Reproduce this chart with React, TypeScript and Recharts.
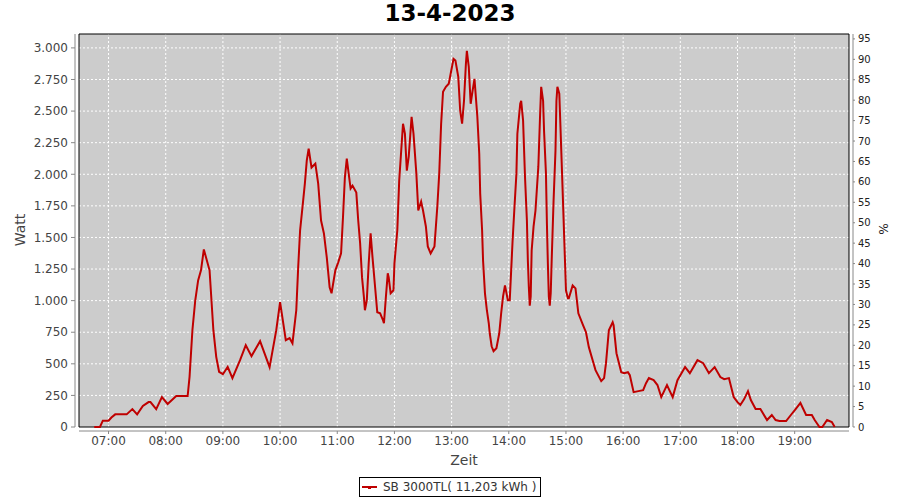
import React from 'react';
import { LineChart, Line, XAxis, YAxis, ReferenceArea, ReferenceLine } from 'recharts';

const times = [
  '06:45','06:51','06:54','07:00','07:03','07:07','07:19','07:25','07:30','07:36','07:42','07:44','07:50','07:56',
  '08:02','08:11','08:23','08:25','08:28','08:31','08:34','08:37','08:40','08:46','08:50','08:53','08:56',
  '09:00','09:05','09:10','09:18','09:24','09:30','09:39','09:49','09:56',
  '10:00','10:06','10:10','10:13','10:17','10:19','10:21','10:24','10:26','10:28','10:30','10:33','10:37','10:40',
  '10:43','10:46','10:49','10:52','10:54','10:58',
  '11:01','11:04','11:06','11:08','11:10','11:12','11:14','11:16','11:20','11:22','11:24','11:26','11:28','11:29',
  '11:31','11:33','11:35','11:37','11:40','11:42','11:45','11:48','11:49','11:51','11:53','11:54','11:56','11:59',
  '12:00','12:03','12:05','12:09','12:11','12:13','12:15','12:18','12:20','12:23','12:25','12:28','12:30','12:33',
  '12:35','12:38','12:42','12:45','12:47','12:49','12:51','12:54','12:57','12:59',
  '13:02','13:04','13:07','13:09','13:11','13:13','13:15','13:16','13:18','13:20','13:22','13:24','13:27','13:29',
  '13:30','13:32','13:33','13:35','13:37','13:39','13:40','13:42','13:44','13:47','13:50','13:52','13:54','13:56','13:59',
  '14:01','14:02','14:04','14:06','14:08','14:09','14:12','14:13','14:15','14:17','14:19','14:20','14:21','14:22',
  '14:23','14:24','14:26','14:28','14:31','14:33','14:34','14:36','14:37','14:39','14:40','14:41','14:42','14:43',
  '14:44','14:45','14:47','14:49','14:50','14:51','14:53','14:54','14:56','14:58',
  '15:00','15:02','15:03','15:07','15:10','15:13','15:18','15:21','15:24','15:28','15:31','15:37','15:40','15:42',
  '15:45','15:49','15:50','15:53','15:58',
  '16:01','16:05','16:07','16:11','16:16','16:21','16:24','16:27','16:32','16:36','16:40','16:46','16:52','16:57',
  '17:05','17:10','17:18','17:24','17:30','17:36','17:42','17:46','17:51','17:56',
  '18:00','18:03','18:07','18:11','18:14','18:19','18:24','18:31','18:36','18:40','18:44','18:51','18:56',
  '19:01','19:06','19:12','19:18','19:21','19:26','19:29','19:34','19:39','19:42',
];

const watts = [
  0, 0, 50, 50, 75, 100, 100, 142, 100, 166, 197, 197, 142, 237,
  182, 245, 245, 397, 766, 1003, 1160, 1240, 1405, 1240, 766, 555, 437,
  418, 476, 387, 529, 647, 561, 679, 474, 766,
  989, 687, 703, 663, 924, 1263, 1555, 1776, 1926, 2108, 2203, 2053, 2084, 1926,
  1634, 1532, 1342, 1105, 1058, 1240,
  1303, 1374, 1658, 1974, 2124, 2005, 1887, 1910, 1855, 1634, 1453, 1184, 1026, 924,
  1003, 1295, 1532, 1342, 1082, 908, 900, 845, 821, 1026, 1216, 1184, 1058, 1082,
  1295, 1555, 1950, 2400, 2321, 2029, 2140, 2455, 2321, 2005, 1713, 1784, 1713, 1587,
  1429, 1374, 1429, 1745, 2005, 2400, 2653, 2692, 2716, 2795,
  2913, 2900, 2771, 2503, 2400, 2582, 2874, 2976, 2850, 2558, 2660, 2755, 2455, 2163,
  1847, 1555, 1318, 1058, 924, 821, 742, 639, 600, 624, 742, 900, 1034, 1121, 1003,
  1003, 1160, 1476, 1745, 2005, 2321, 2558, 2582, 2424, 1982, 1634, 1318, 1113, 960,
  1034, 1397, 1587, 1713, 2060, 2503, 2692, 2582, 2345, 2005, 1611, 1295, 1034, 960,
  1058, 1318, 1792, 2187, 2582, 2692, 2637, 2424, 1982, 1532,
  1082, 1018, 1018, 1121, 1097, 900, 805, 750, 632, 529, 450, 363, 387, 505,
  766, 829, 805, 584, 434,
  426, 434, 410, 276, 284, 292, 347, 387, 371, 332, 237, 332, 237, 371,
  474, 426, 529, 505, 426, 474, 395, 379, 387, 237,
  197, 174, 221, 284, 213, 142, 142, 55, 95, 55, 47, 47, 95,
  142, 190, 95, 95, 55, 0, 0, 55, 39, 0,
];

const xTickLabels = ['07:00','08:00','09:00','10:00','11:00','12:00','13:00','14:00','15:00','16:00','17:00','18:00','19:00'];
const wattTicks = [0, 250, 500, 750, 1000, 1250, 1500, 1750, 2000, 2250, 2500, 2750, 3000];
const percentTicks = [0, 5, 10, 15, 20, 25, 30, 35, 40, 45, 50, 55, 60, 65, 70, 75, 80, 85, 90, 95];

const seriesName = 'SB 3000TL( 11,203 kWh )';
const title = '13-4-2023';

// plot range (minutes / watts / percent) and the 4px axis offset expressed in data units
const X_START = 389;
const X_END = 1197;
const X_PAD = 4.2;
const W_MAX = 3110;
const W_PAD = 31.6;
const P_MAX = 96.2;
const P_PAD = 0.98;

const toMin = (s: string) => {
  const [h, m] = s.split(':').map(Number);
  return h * 60 + m;
};
const data = times.map((t, i) => ({ m: toMin(t), w: watts[i] }));
const xTicks = xTickLabels.map(toMin);

const fmtTime = (v: number) =>
  `${String(Math.floor(v / 60)).padStart(2, '0')}:${String(Math.round(v % 60)).padStart(2, '0')}`;
const fmtWatt = (v: number) =>
  v >= 1000 ? `${Math.floor(v / 1000)}.${String(v % 1000).padStart(3, '0')}` : String(v);

const FONT = '"DejaVu Sans", sans-serif';
const RED = '#bf0000';
const AXIS_GRAY = '#888888';

const renderZeit = (props: any) => {
  const vb = props.viewBox || { x: 75, y: 431, width: 778, height: 30 };
  return (
    <text x={vb.x + vb.width / 2} y={vb.y + 34} textAnchor="middle" fontSize={14} fontFamily={FONT} fill="#444">
      Zeit
    </text>
  );
};
const renderWatt = (props: any) => {
  const vb = props.viewBox || { x: 0, y: 34, width: 75, height: 397 };
  const cx = vb.x + 25;
  const cy = vb.y + 196;
  return (
    <text x={cx} y={cy} transform={`rotate(-90, ${cx}, ${cy})`} textAnchor="middle" fontSize={14} fontFamily={FONT} fill="#444">
      Watt
    </text>
  );
};
const renderPct = (props: any) => {
  const vb = props.viewBox || { x: 853, y: 34, width: 47, height: 397 };
  const cx = vb.x + 26;
  const cy = vb.y + 195;
  return (
    <text x={cx} y={cy} transform={`rotate(90, ${cx}, ${cy})`} textAnchor="middle" fontSize={12} fontFamily={FONT} fill="#222">
      %
    </text>
  );
};

export default function App() {
  return (
    <div style={{ position: 'absolute', left: 0, top: 0, width: 900, height: 500, background: '#fff', fontFamily: FONT }}>
      <div
        style={{
          position: 'absolute', left: 0, top: 0, width: 900, textAlign: 'center',
          fontSize: 23, fontWeight: 'bold', lineHeight: '26px', color: '#000', fontFamily: FONT,
        }}
      >
        {title}
      </div>
      <LineChart width={900} height={500} data={data} margin={{ top: 34, right: 0, bottom: 39, left: 0 }}>
        <XAxis
          type="number"
          dataKey="m"
          domain={[X_START - X_PAD, X_END + X_PAD]}
          allowDataOverflow
          ticks={xTicks}
          tickFormatter={fmtTime}
          interval={0}
          height={30}
          axisLine={false}
          tickLine={{ stroke: AXIS_GRAY }}
          tickSize={3}
          tickMargin={2}
          tick={{ fill: '#444', fontSize: 12, fontFamily: FONT }}
          label={renderZeit}
        />
        <YAxis
          type="number"
          domain={[-W_PAD, W_MAX]}
          allowDataOverflow
          ticks={wattTicks}
          tickFormatter={fmtWatt}
          interval={0}
          width={75}
          axisLine={false}
          tickLine={{ stroke: AXIS_GRAY }}
          tickSize={4}
          tickMargin={3}
          tick={{ fill: '#444', fontSize: 12, fontFamily: FONT }}
          label={renderWatt}
        />
        <YAxis
          yAxisId="right"
          orientation="right"
          type="number"
          domain={[-P_PAD, P_MAX]}
          allowDataOverflow
          ticks={percentTicks}
          interval={0}
          width={47}
          axisLine={false}
          tickLine={{ stroke: AXIS_GRAY }}
          tickSize={2}
          tickMargin={3}
          tick={{ fill: '#222', fontSize: 10, fontFamily: FONT }}
          label={renderPct}
        />
        <ReferenceArea
          x1={X_START} x2={X_END} y1={0} y2={W_MAX}
          fill="#cccccc" fillOpacity={1} stroke="none" ifOverflow="visible" zIndex={-300}
        />
        {wattTicks.filter((v) => v > 0).map((v) => (
          <ReferenceLine
            key={`gy${v}`}
            segment={[{ x: X_START, y: v }, { x: X_END, y: v }]}
            stroke="#ffffff" strokeDasharray="2 2" strokeWidth={1} ifOverflow="visible" zIndex={-250}
          />
        ))}
        {xTicks.map((v) => (
          <ReferenceLine
            key={`gx${v}`}
            segment={[{ x: v, y: 0 }, { x: v, y: W_MAX }]}
            stroke="#ffffff" strokeDasharray="2 2" strokeWidth={1} ifOverflow="visible" zIndex={-250}
          />
        ))}
        <ReferenceArea
          x1={X_START} x2={X_END} y1={0} y2={W_MAX}
          fill="none" fillOpacity={0} stroke="#000" strokeWidth={1} ifOverflow="visible" zIndex={-200}
        />
        <ReferenceLine
          segment={[{ x: X_START - X_PAD, y: 0 }, { x: X_START - X_PAD, y: W_MAX }]}
          stroke={AXIS_GRAY} strokeWidth={1} ifOverflow="visible" zIndex={-200}
        />
        <ReferenceLine
          segment={[{ x: X_END + X_PAD, y: 0 }, { x: X_END + X_PAD, y: W_MAX }]}
          stroke={AXIS_GRAY} strokeWidth={1} ifOverflow="visible" zIndex={-200}
        />
        <ReferenceLine
          segment={[{ x: X_START, y: -W_PAD }, { x: X_END, y: -W_PAD }]}
          stroke={AXIS_GRAY} strokeWidth={1} ifOverflow="visible" zIndex={-200}
        />
        <Line
          type="linear"
          dataKey="w"
          stroke={RED}
          strokeWidth={2}
          dot={false}
          activeDot={false}
          isAnimationActive={false}
          legendType="none"
        />
      </LineChart>
      <div
        style={{
          position: 'absolute', left: 359, top: 477, width: 182, height: 20, boxSizing: 'border-box',
          border: '1px solid #000', display: 'flex', alignItems: 'center', fontFamily: FONT,
          fontSize: 12, color: '#333', whiteSpace: 'nowrap',
        }}
      >
        <svg width={18} height={10} style={{ marginLeft: 2, marginRight: 3 }}>
          <line x1={0} y1={5} x2={15} y2={5} stroke={RED} strokeWidth={2} />
          <rect x={6} y={5} width={3} height={2} fill={RED} />
        </svg>
        <span>{seriesName}</span>
      </div>
    </div>
  );
}
